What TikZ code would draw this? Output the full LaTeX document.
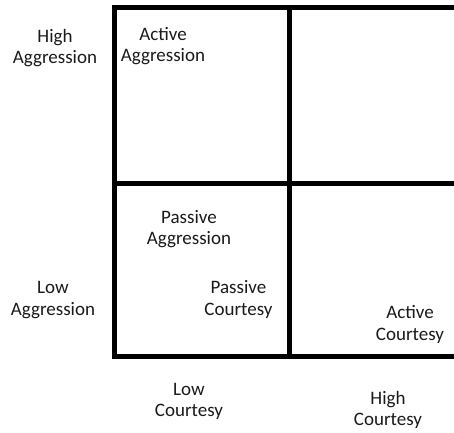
\documentclass[tikz,border=0pt]{standalone}
\usepackage{fontspec}
\setmainfont{Carlito}
\definecolor{txt}{HTML}{1A1A1A}
\begin{document}
\begin{tikzpicture}[x=1bp,y=-1bp,
  grid/.style={line width=5bp, line join=miter, draw=black},
  lbl/.style={align=center, inner sep=0pt, text=txt, font=\fontsize{19bp}{21.5bp}\selectfont}]
\useasboundingbox (0,0) rectangle (454,432);
% grid corners
\coordinate (tl) at (114.5,7.5);
\coordinate (tr) at (454,7.5);
\coordinate (bl) at (114.5,356.8);
\coordinate (br) at (454,356.8);
\coordinate (mt) at (289.8,5);
\coordinate (mb) at (289.8,359.3);
\coordinate (ml) at (112,183);
\coordinate (mr) at (454,183);
\draw[grid] (tr) -- (tl) -- (bl) -- (br);
\draw[grid] (mt) -- (mb);
\draw[grid] (ml) -- (mr);
% labels
\node[lbl] (ha) at (55,48) {High\\Aggression};
\node[lbl] (la) at (53,300) {Low\\Aggression};
\node[lbl] (aa) at (163,46) {Active\\Aggression};
\node[lbl] (pa) at (189,229) {Passive\\Aggression};
\node[lbl] (pc) at (238.5,299.5) {Passive\\Courtesy};
\node[lbl] (ac) at (410,324.5) {Active\\Courtesy};
\node[lbl] (lc) at (189,401.5) {Low\\Courtesy};
\node[lbl] (hc) at (388,410) {High\\Courtesy};
\end{tikzpicture}
\end{document}
